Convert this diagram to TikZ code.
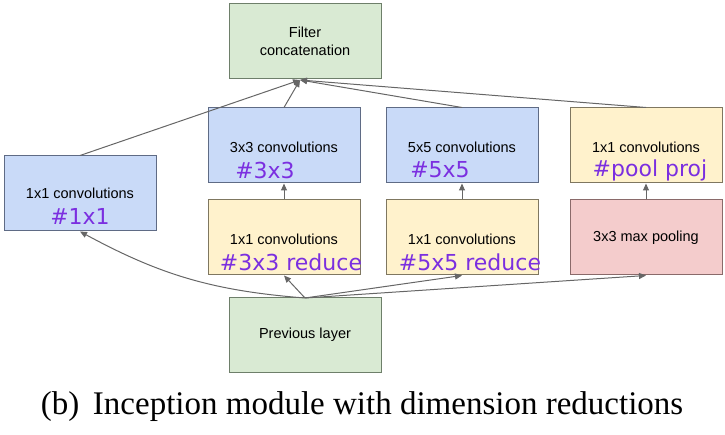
\documentclass[tikz,border=0pt]{standalone}
\usepackage{fontspec}
\setmainfont{Liberation Sans}
\newfontfamily\capfont{Liberation Serif}
\newfontfamily\labfont{DejaVu Sans}
\usetikzlibrary{arrows.meta}
\definecolor{gfill}{HTML}{D9EAD3}\definecolor{gdraw}{HTML}{6E7F6A}
\definecolor{bfill}{HTML}{C9DAF8}\definecolor{bdraw}{HTML}{5F6B85}
\definecolor{yfill}{HTML}{FFF2CC}\definecolor{ydraw}{HTML}{7F7760}
\definecolor{rfill}{HTML}{F4CCCC}\definecolor{rdraw}{HTML}{8A6A6A}
\definecolor{purp}{HTML}{7B2FE0}\definecolor{arr}{HTML}{666666}
\tikzset{box/.style={draw, line width=1pt, minimum width=152pt, minimum height=75pt, align=center, font=\fontsize{14.5}{18}\selectfont, inner sep=2pt},
 gbox/.style={box,fill=gfill,draw=gdraw}, bbox/.style={box,fill=bfill,draw=bdraw},
 ybox/.style={box,fill=yfill,draw=ydraw}, rbox/.style={box,fill=rfill,draw=rdraw},
 txt/.style={font=\fontsize{14.5}{18}\selectfont},
 lab/.style={text=purp,font=\labfont\fontsize{22}{24}\selectfont},
 a/.style={draw=arr,line width=1pt,-{Triangle[length=7pt,width=6pt]}}}
\begin{document}
\begin{tikzpicture}[x=1pt,y=-1pt]
\useasboundingbox (0,0) rectangle (725,435);
\node[gbox] (fc) at (305,41.5) {Filter\\concatenation};
\node[bbox] (c1) at (80,193.5) {};
\node[bbox] (c3) at (284,145.5) {};
\node[bbox] (c5) at (462,145.5) {};
\node[ybox] (pp) at (646,145.5) {};
\node[ybox] (r3) at (284,237.5) {};
\node[ybox] (r5) at (462,237.5) {};
\node[rbox] (mp) at (646,237.5) {3x3 max pooling};
\node[gbox] (pl) at (305,335) {Previous layer};
\node[txt] (t1) at (80,193) {1x1 convolutions};
\node[lab] (l1) at (80,216) {\#1x1};
\node[txt] (t3) at (284,147) {3x3 convolutions};
\node[lab] (l3) at (265,170) {\#3x3};
\node[txt] (t5) at (462,147) {5x5 convolutions};
\node[lab] (l5) at (440,170) {\#5x5};
\node[txt] (tp) at (646,147) {1x1 convolutions};
\node[lab] (lp) at (650,170) {\#pool proj};
\node[txt] (tr3) at (284,239) {1x1 convolutions};
\node[lab] (lr3) at (291,262) {\#3x3 reduce};
\node[txt] (tr5) at (462,239) {1x1 convolutions};
\node[lab] (lr5) at (470,262) {\#5x5 reduce};
\coordinate (src) at (305,298);
\draw[a] (src) to[bend left=12] (c1.south);
\draw[a] (src) -- (r3.south);
\draw[a] (src) -- (r5.south);
\draw[a] (src) -- (mp.south);
\draw[a] (r3) -- (c3);
\draw[a] (r5) -- (c5);
\draw[a] (mp) -- (pp);
\coordinate (dst) at (300,80);
\draw[a] (c1.north) -- (dst);
\draw[a] (c3.north) -- (dst);
\draw[a] (c5.north) -- (dst);
\draw[a] (pp.north) -- (dst);
\node[font=\capfont\fontsize{33}{36}\selectfont] (cap) at (362,407) {(b)\, Inception module with dimension reductions};
\end{tikzpicture}
\end{document}
